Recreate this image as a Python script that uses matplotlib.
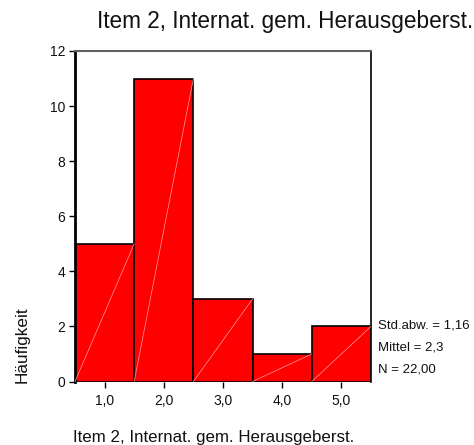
import matplotlib
matplotlib.use("Agg")
import matplotlib.pyplot as plt

plt.rcParams['font.family'] = ['Liberation Sans', 'DejaVu Sans']

categories = [1.0, 2.0, 3.0, 4.0, 5.0]
counts = [5, 11, 3, 1, 2]
xtick_labels = ["1,0", "2,0", "3,0", "4,0", "5,0"]
yticks = [0, 2, 4, 6, 8, 10, 12]
title = "Item 2, Internat. gem. Herausgeberst."
xlabel = "Item 2, Internat. gem. Herausgeberst."
ylabel = "Häufigkeit"
stats = ["Std.abw. = 1,16", "Mittel = 2,3", "N = 22,00"]

fig = plt.figure(figsize=(4.74, 4.45), dpi=100)
W, H = 474, 445
ax = fig.add_axes([75 / W, 1 - 381.5 / H, 296 / W, 330.5 / H])

ax.bar(categories, counts, width=1.0, color="#ff0000", edgecolor="black", linewidth=1.2, zorder=2)
for c, n in zip(categories, counts):
    ax.plot([c - 0.5, c + 0.5], [0, n], color="#ffa0a0", linewidth=0.5, zorder=3)

ax.set_xlim(0.5, 5.5)
ax.set_ylim(0, 12)
ax.set_xticks(categories)
ax.set_xticklabels(xtick_labels)
ax.set_yticks(yticks)
ax.tick_params(axis="both", labelsize=10, length=4, width=1, color="black", pad=3, labelcolor="#111111")
ax.tick_params(axis="x", pad=5)

ax.spines["left"].set_linewidth(2)
ax.spines["left"].set_color("black")
ax.spines["right"].set_linewidth(1.2)
ax.spines["right"].set_color("black")
ax.spines["top"].set_linewidth(1.5)
ax.spines["top"].set_color("#606060")
ax.spines["bottom"].set_visible(False)

fig.text(97 / W, 1 - 28 / H, title, fontsize=16.3, ha="left", va="baseline", color="#111111")
fig.text(73 / W, 1 - 442 / H, xlabel, fontsize=12.2, ha="left", va="baseline", color="#111111")
fig.text(22 / W, 1 - 345 / H, ylabel, fontsize=12.3, rotation=90, ha="center", va="center", color="#111111")

for i, s in enumerate(stats):
    fig.text(378 / W, 1 - (326 + i * 22) / H, s, fontsize=9.5, ha="left", va="center", color="#111111")

fig.savefig("out.png", dpi=100, facecolor="white")
